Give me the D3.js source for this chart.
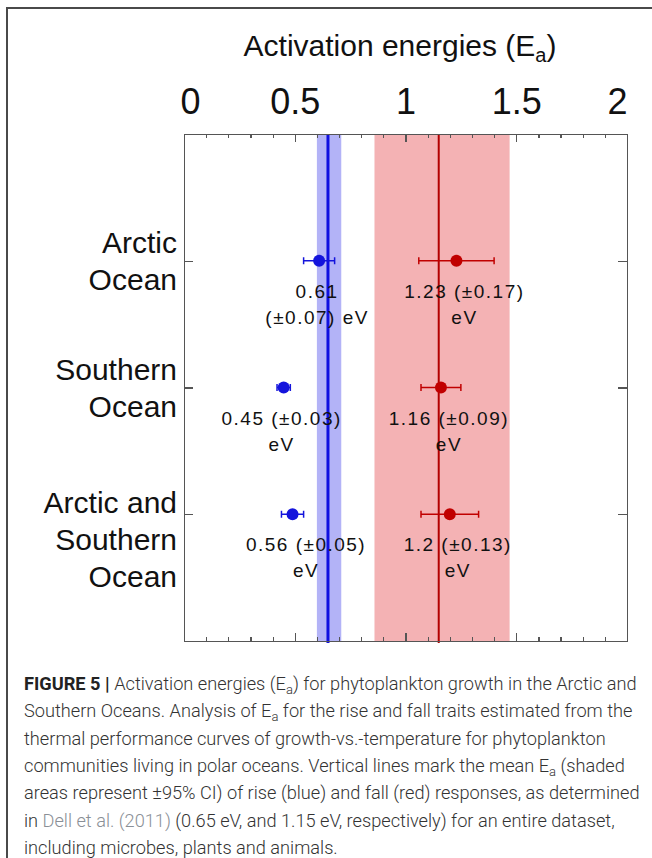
<!DOCTYPE html>
<html lang="en">
<head>
<meta charset="UTF-8">
<title>Activation energies</title>
<script src="https://cdn.jsdelivr.net/npm/d3@7"></script>
<style>
    body { margin: 0; background: #fff; }
    svg { display: block; }
    .frame path, .frame line { stroke: #555; shape-rendering: crispEdges; }
    .big { font-family: "Liberation Sans", Arial, sans-serif; fill: #111; }
    .note { font-family: "Liberation Sans", Arial, sans-serif; font-size: 19px; letter-spacing: 1.5px; fill: #111; }
    .caption { font-family: Roboto, "Liberation Sans", sans-serif; font-weight: 300; font-size: 18.2px; fill: #333; }
</style>
</head>
<body>
<script>
    var w = 652;
    var h = 858;

    // data
    var categories = ["Arctic Ocean", "Southern Ocean", "Arctic and Southern Ocean"];
    var categoryLines = [["Arctic", "Ocean"], ["Southern", "Ocean"], ["Arctic and", "Southern", "Ocean"]];

    var riseValue = [0.61, 0.45, 0.49];      // where the blue dots sit
    var riseError = [0.07, 0.03, 0.05];
    var riseLabelAt = [0.61, 0.45, 0.56];
    var riseLabel = [["0.61", "(\u00b10.07) eV"], ["0.45 (\u00b10.03)", "eV"], ["0.56 (\u00b10.05)", "eV"]];

    var fallValue = [1.23, 1.16, 1.20];
    var fallError = [0.17, 0.09, 0.13];
    var fallLabelAt = [1.23, 1.16, 1.20];
    var fallLabel = [["1.23 (\u00b10.17)", "eV"], ["1.16 (\u00b10.09)", "eV"], ["1.2 (\u00b10.13)", "eV"]];

    var dellMean = [0.65, 1.15];
    var dellLow = [0.60, 0.86];
    var dellHigh = [0.71, 1.47];

    var xTickLabels = [0, 0.5, 1, 1.5, 2];

    var pLeft = 184, pRight = 627, pTop = 134, pBottom = 641;

    var svg = d3.select("body")
        .append("svg")
        .attr("width", w)
        .attr("height", h);

    svg.append("rect").attr("width", w).attr("height", h).attr("fill", "#fff");

    // outer panel border (left and top only)
    svg.append("path")
        .attr("d", "M7," + h + "V8H" + w)
        .attr("fill", "none")
        .attr("stroke", "#4a4a4a")
        .attr("stroke-width", 2);

    var xScale = d3.scaleLinear().domain([0, 2]).range([pLeft, pRight]);
    var yScale = d3.scalePoint().domain(categories).range([pTop, pBottom]).padding(1);

    var colors = ["#1414dc", "#c00000"];
    var bandColors = ["#b3b3f7", "#f4b2b4"];
    var lineColors = ["#1010e0", "#b20000"];

    // shaded CI bands and mean lines
    svg.selectAll("rect.band")
        .data(dellMean)
        .enter()
        .append("rect")
        .attr("class", "band")
        .attr("x", function (d, i) { return xScale(dellLow[i]); })
        .attr("width", function (d, i) { return xScale(dellHigh[i]) - xScale(dellLow[i]); })
        .attr("y", pTop)
        .attr("height", pBottom - pTop)
        .attr("fill", function (d, i) { return bandColors[i]; });

    svg.selectAll("line.mean")
        .data(dellMean)
        .enter()
        .append("line")
        .attr("class", "mean")
        .attr("x1", function (d) { return xScale(d); })
        .attr("x2", function (d) { return xScale(d); })
        .attr("y1", pTop)
        .attr("y2", pBottom + 2)
        .attr("stroke", function (d, i) { return lineColors[i]; })
        .attr("stroke-width", function (d, i) { return i === 0 ? 3 : 2; });

    // frame and ticks
    var frame = svg.append("g").attr("class", "frame");
    var minor = d3.range(0, 2.0001, 0.1);

    frame.append("g")
        .attr("transform", "translate(0," + pTop + ")")
        .call(d3.axisBottom(xScale).tickValues(minor).tickSize(4).tickSizeOuter(0).tickFormat(""));
    frame.append("g")
        .attr("transform", "translate(0," + pTop + ")")
        .call(d3.axisBottom(xScale).tickValues(xTickLabels).tickSize(8).tickSizeOuter(0).tickFormat(""));
    frame.append("g")
        .attr("transform", "translate(0," + pBottom + ")")
        .call(d3.axisTop(xScale).tickValues(minor).tickSize(4).tickSizeOuter(0).tickFormat(""));
    frame.append("g")
        .attr("transform", "translate(0," + pBottom + ")")
        .call(d3.axisTop(xScale).tickValues(xTickLabels).tickSize(8).tickSizeOuter(0).tickFormat(""));
    frame.append("g")
        .attr("transform", "translate(" + pLeft + ",0)")
        .call(d3.axisRight(yScale).tickSize(9).tickSizeOuter(0).tickFormat(""));
    frame.append("g")
        .attr("transform", "translate(" + pRight + ",0)")
        .call(d3.axisLeft(yScale).tickSize(9).tickSizeOuter(0).tickFormat(""));
    frame.selectAll("path").attr("stroke-width", 1.5);
    frame.selectAll("line").attr("stroke-width", 1.2);

    // big tick labels above the plot
    var topAxis = svg.append("g")
        .attr("transform", "translate(0," + pTop + ")")
        .call(d3.axisTop(xScale).tickValues(xTickLabels).tickSize(0).tickPadding(20).tickFormat(d3.format("")));
    topAxis.select(".domain").remove();
    topAxis.selectAll("text")
        .attr("class", "big")
        .attr("font-size", 36)
        .attr("dx", function (d) { return d === 0 ? 6 : d === 2 ? -10 : 0; });

    // title
    var title = svg.append("text")
        .attr("class", "big")
        .attr("x", 400)
        .attr("y", 56)
        .attr("text-anchor", "middle")
        .attr("font-size", 30);
    title.append("tspan").text("Activation energies (E");
    title.append("tspan").attr("font-size", 20).attr("dy", 6).text("a");
    title.append("tspan").attr("dy", -6).text(")");

    // category labels on the left
    categoryLines.forEach(function (lines, i) {
        var y0 = yScale(categories[i]) + (lines.length === 3 ? -1 : -7.5);
        svg.append("text")
            .attr("class", "big")
            .attr("font-size", 30)
            .attr("text-anchor", "end")
            .selectAll("tspan")
            .data(lines)
            .enter()
            .append("tspan")
            .attr("x", 177)
            .attr("y", function (d, j) { return y0 + j * 36.7; })
            .text(function (d) { return d; });
    });

    // error bars and points
    var series = [
        { value: riseValue, error: riseError, color: colors[0] },
        { value: fallValue, error: fallError, color: colors[1] }
    ];

    series.forEach(function (s) {
        var g = svg.append("g");
        var rows = categories.map(function (c, i) { return { c: c, v: s.value[i], e: s.error[i] }; });

        g.selectAll("line.err")
            .data(rows)
            .enter()
            .append("line")
            .attr("x1", function (d) { return xScale(d.v - d.e); })
            .attr("x2", function (d) { return xScale(d.v + d.e); })
            .attr("y1", function (d) { return yScale(d.c); })
            .attr("y2", function (d) { return yScale(d.c); })
            .attr("stroke", s.color)
            .attr("stroke-width", 1.5);

        [-1, 1].forEach(function (side) {
            g.selectAll("line.cap" + side)
                .data(rows)
                .enter()
                .append("line")
                .attr("x1", function (d) { return xScale(d.v + side * d.e); })
                .attr("x2", function (d) { return xScale(d.v + side * d.e); })
                .attr("y1", function (d) { return yScale(d.c) - 3.5; })
                .attr("y2", function (d) { return yScale(d.c) + 3.5; })
                .attr("stroke", s.color)
                .attr("stroke-width", 1.5);
        });

        g.selectAll("circle")
            .data(rows)
            .enter()
            .append("circle")
            .attr("cx", function (d) { return xScale(d.v); })
            .attr("cy", function (d) { return yScale(d.c); })
            .attr("r", 6)
            .attr("fill", s.color);
    });

    // value notes under each point
    function notes(labels, at, shift) {
        labels.forEach(function (lines, i) {
            var y0 = yScale(categories[i]) + 37;
            svg.append("text")
                .attr("class", "note")
                .attr("text-anchor", "middle")
                .selectAll("tspan")
                .data(lines)
                .enter()
                .append("tspan")
                .attr("x", xScale(at[i]) + shift)
                .attr("y", function (d, j) { return y0 + j * 26; })
                .text(function (d) { return d; });
        });
    }
    notes(riseLabel, riseLabelAt, -2);
    notes(fallLabel, fallLabelAt, 8);

    // caption
    var caption = [
        [["FIGURE 5 | ", "b"], ["Activation energies (E", ""], ["a", "s"], [") for phytoplankton growth in the Arctic and", ""]],
        [["Southern Oceans. Analysis of E", ""], ["a", "s"], [" for the rise and fall traits estimated from the", ""]],
        [["thermal performance curves of growth-vs.-temperature for phytoplankton", ""]],
        [["communities living in polar oceans. Vertical lines mark the mean E", ""], ["a", "s"], [" (shaded", ""]],
        [["areas represent \u00b195% CI) of rise (blue) and fall (red) responses, as determined", ""]],
        [["in ", ""], ["Dell et al. (2011)", "l"], [" (0.65 eV, and 1.15 eV, respectively) for an entire dataset,", ""]],
        [["including microbes, plants and animals.", ""]]
    ];

    caption.forEach(function (parts, i) {
        var t = svg.append("text")
            .attr("class", "caption")
            .attr("x", 24)
            .attr("y", 690 + i * 27.3);
        var down = false;
        parts.forEach(function (p) {
            var span = t.append("tspan").text(p[0]);
            if (p[1] === "b") span.attr("font-weight", 700).attr("fill", "#222");
            if (p[1] === "l") span.attr("fill", "#8a8f96");
            if (p[1] === "s") { span.attr("font-size", 13).attr("dy", 4); down = true; }
            else if (down) { span.attr("dy", -4); down = false; }
        });
    });
</script>
</body>
</html>
